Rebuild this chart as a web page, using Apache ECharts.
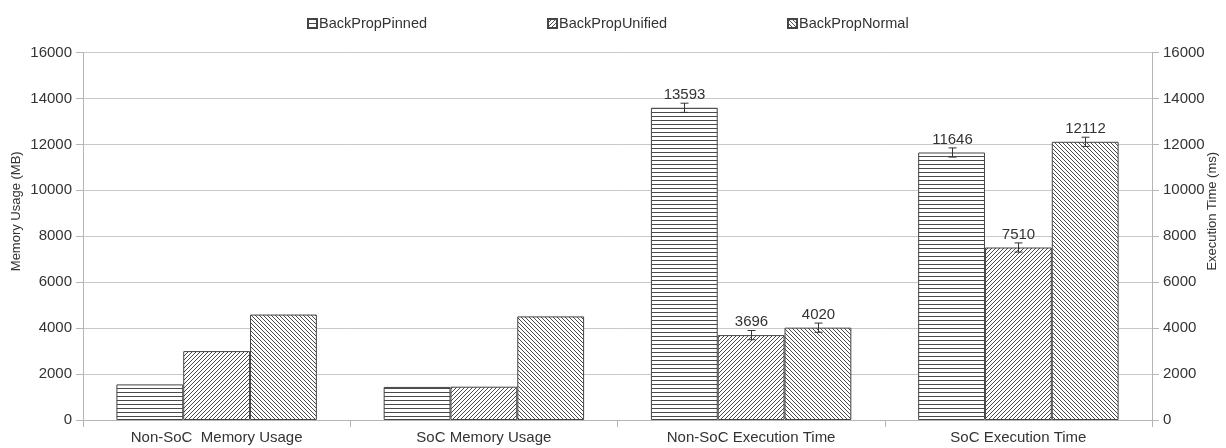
<!DOCTYPE html>
<html><head><meta charset="utf-8">
<script src="https://cdn.jsdelivr.net/npm/echarts@6/dist/echarts.min.js"></script>
<style>html,body{margin:0;padding:0;background:#fff}#c{width:1226px;height:448px}</style>
</head><body><div id="c"></div>
<script>
const categories = ['Non-SoC  Memory Usage', 'SoC Memory Usage', 'Non-SoC Execution Time', 'SoC Execution Time'];
const seriesNames = ['BackPropPinned', 'BackPropUnified', 'BackPropNormal'];
const pinned = [1550, 1440, 13593, 11646];
const unified = [3000, 1450, 3696, 7510];
const normal = [4590, 4510, 4020, 12112];
const pinnedErr = [null, null, 200, 200];
const unifiedErr = [null, null, 200, 200];
const normalErr = [null, null, 200, 200];
const yTicks = [0, 2000, 4000, 6000, 8000, 10000, 12000, 14000, 16000];

const FONT = 'Liberation Sans';
function makePattern(type) {
  const c = document.createElement('canvas');
  c.width = 4; c.height = 4;
  const g = c.getContext('2d');
  g.fillStyle = '#fff'; g.fillRect(0, 0, 4, 4);
  g.fillStyle = '#4a4a4a';
  if (type === 'h') g.fillRect(0, 0, 4, 1);
  else if (type === 'f') { for (let i = 0; i < 4; i++) g.fillRect(i, 3 - i, 1, 1); }
  else { for (let i = 0; i < 4; i++) g.fillRect(i, i, 1, 1); }
  return c;
}
const patterns = [makePattern('h'), makePattern('f'), makePattern('b')];
const values = [pinned, unified, normal];
const errs = [pinnedErr, unifiedErr, normalErr];

const series = [];
values.forEach((vals, k) => {
  series.push({
    name: seriesNames[k], type: 'bar', data: vals, barGap: '0%', barCategoryGap: '25%',
    itemStyle: { color: { image: patterns[k], repeat: 'repeat' }, borderColor: '#444', borderWidth: 1 },
    emphasis: { disabled: true }
  });
});
values.forEach((vals, k) => {
  const d = [];
  vals.forEach((v, i) => { if (errs[k][i] != null) d.push([i, v, errs[k][i]]); });
  series.push({
    name: seriesNames[k] + ' err', type: 'custom', z: 5, data: d, silent: true,
    renderItem: function (params, api) {
      const ci = api.value(0), v = api.value(1), e = api.value(2);
      const c = api.coord([ci, v]);
      const catW = api.size([1, 0])[0];
      const barW = catW * 0.75 / 3;
      const x = Math.round(c[0] + (k - 1) * barW) + 0.5;
      const top = api.coord([ci, v + e])[1];
      const bot = api.coord([ci, v - e])[1];
      const st = { stroke: '#333', lineWidth: 1 };
      return { type: 'group', children: [
        { type: 'line', shape: { x1: x, y1: top, x2: x, y2: bot }, style: st },
        { type: 'line', shape: { x1: x - 4, y1: top, x2: x + 4, y2: top }, style: st },
        { type: 'line', shape: { x1: x - 4, y1: bot, x2: x + 4, y2: bot }, style: st },
        { type: 'text', x: x, y: top - 1, style: { text: String(v), fill: '#333', font: '15px "' + FONT + '"', textAlign: 'center', textVerticalAlign: 'bottom' } }
      ] };
    }
  });
});

const yAxisCommon = {
  type: 'value', min: 0, max: 16000, interval: 2000,
  axisLine: { show: true, lineStyle: { color: '#b5b5b5' } },
  axisTick: { show: true, length: 7, lineStyle: { color: '#b5b5b5' } },
  axisLabel: { color: '#333', fontSize: 15, fontFamily: FONT, margin: 11,
    formatter: v => (yTicks.indexOf(v) >= 0 ? String(v) : '') },
  nameLocation: 'middle', nameRotate: 90, nameMoveOverlap: false,
  nameTextStyle: { color: '#333', fontSize: 13, fontFamily: FONT, padding: [0, 0, 0, 50] }
};

const chart = echarts.init(document.getElementById('c'), null, { renderer: 'canvas' });
chart.setOption({
  animation: false,
  backgroundColor: '#fff',
  grid: { left: 83, right: 74, top: 52.5, bottom: 28, containLabel: false, outerBoundsMode: 'none' },
  legend: {
    data: seriesNames, left: 302, top: 11, itemWidth: 9, itemHeight: 9, itemGap: 120,
    icon: 'rect', selectedMode: false,
    textStyle: { color: '#333', fontSize: 14.5, fontFamily: FONT, padding: [0, 0, 0, -3] }
  },
  xAxis: {
    type: 'category', data: categories,
    axisLine: { lineStyle: { color: '#b5b5b5' } },
    axisTick: { show: true, length: 7, alignWithLabel: false, lineStyle: { color: '#b5b5b5' } },
    axisLabel: { color: '#333', fontSize: 15, fontFamily: FONT, margin: 10, interval: 0 }
  },
  yAxis: [
    Object.assign({}, yAxisCommon, { position: 'left', name: 'Memory Usage (MB)', nameGap: 60,
      splitLine: { show: true, lineStyle: { color: '#c8c8c8' } } }),
    Object.assign({}, yAxisCommon, { position: 'right', name: 'Execution Time (ms)', nameGap: 54,
      splitLine: { show: false } })
  ],
  series: series
});
</script></body></html>
